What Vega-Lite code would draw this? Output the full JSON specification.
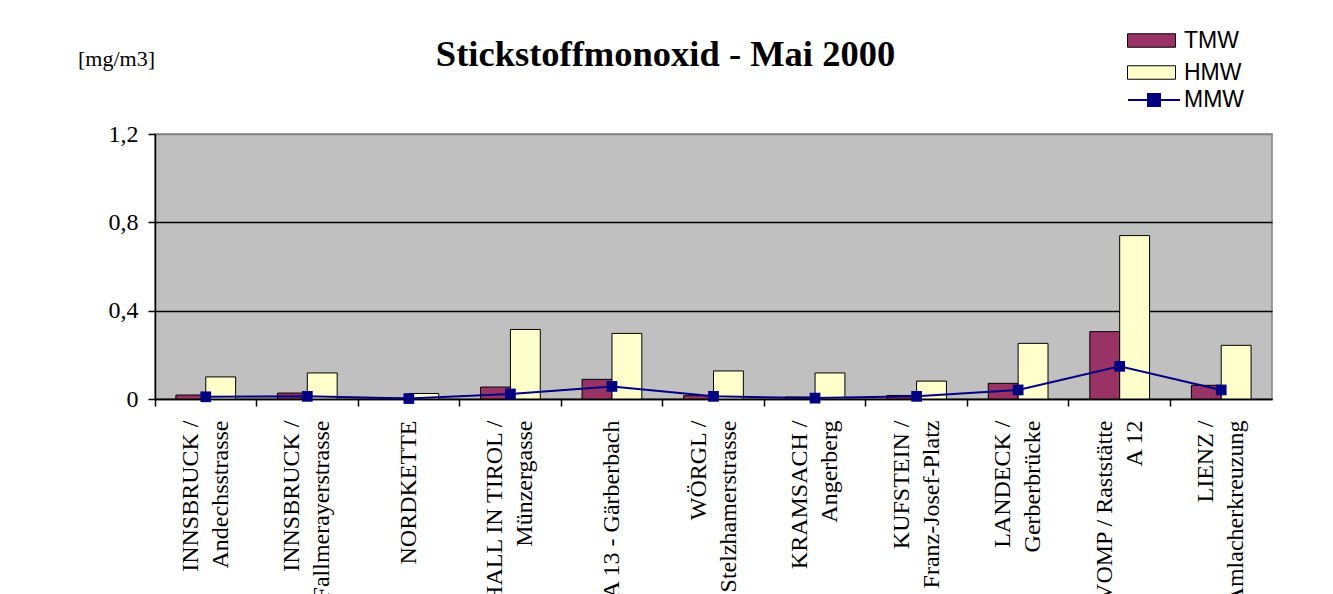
{
  "$schema": "https://vega.github.io/schema/vega-lite/v6.json",
  "width": 1117,
  "height": 265,
  "autosize": {"type": "none"},
  "padding": {"left": 155, "top": 134, "right": 61, "bottom": 195},
  "background": "white",
  "title": {
    "text": "Stickstoffmonoxid - Mai 2000",
    "font": "Liberation Serif",
    "fontSize": 36.5,
    "fontWeight": "bold",
    "color": "black",
    "anchor": "middle",
    "frame": "group",
    "dx": -48,
    "dy": 45,
    "offset": 0
  },
  "data": {
    "values": [
      {"station": "INNSBRUCK /|Andechsstrasse", "series": "TMW", "value": 0.018},
      {"station": "INNSBRUCK /|Andechsstrasse", "series": "HMW", "value": 0.1},
      {"station": "INNSBRUCK /|Andechsstrasse", "series": "MMW", "value": 0.01},
      {"station": "INNSBRUCK /|Fallmerayerstrasse", "series": "TMW", "value": 0.027},
      {"station": "INNSBRUCK /|Fallmerayerstrasse", "series": "HMW", "value": 0.118},
      {"station": "INNSBRUCK /|Fallmerayerstrasse", "series": "MMW", "value": 0.012},
      {"station": "NORDKETTE", "series": "TMW", "value": 0.004},
      {"station": "NORDKETTE", "series": "HMW", "value": 0.025},
      {"station": "NORDKETTE", "series": "MMW", "value": 0.002},
      {"station": "HALL IN TIROL /|Münzergasse", "series": "TMW", "value": 0.054},
      {"station": "HALL IN TIROL /|Münzergasse", "series": "HMW", "value": 0.315},
      {"station": "HALL IN TIROL /|Münzergasse", "series": "MMW", "value": 0.023},
      {"station": "A 13 - Gärberbach", "series": "TMW", "value": 0.089},
      {"station": "A 13 - Gärberbach", "series": "HMW", "value": 0.297},
      {"station": "A 13 - Gärberbach", "series": "MMW", "value": 0.057},
      {"station": "WÖRGL /|Stelzhamerstrasse", "series": "TMW", "value": 0.015},
      {"station": "WÖRGL /|Stelzhamerstrasse", "series": "HMW", "value": 0.127},
      {"station": "WÖRGL /|Stelzhamerstrasse", "series": "MMW", "value": 0.012},
      {"station": "KRAMSACH /|Angerberg", "series": "TMW", "value": 0.009},
      {"station": "KRAMSACH /|Angerberg", "series": "HMW", "value": 0.118},
      {"station": "KRAMSACH /|Angerberg", "series": "MMW", "value": 0.004},
      {"station": "KUFSTEIN /|Franz-Josef-Platz", "series": "TMW", "value": 0.016},
      {"station": "KUFSTEIN /|Franz-Josef-Platz", "series": "HMW", "value": 0.081},
      {"station": "KUFSTEIN /|Franz-Josef-Platz", "series": "MMW", "value": 0.012},
      {"station": "LANDECK /|Gerberbrücke", "series": "TMW", "value": 0.071},
      {"station": "LANDECK /|Gerberbrücke", "series": "HMW", "value": 0.252},
      {"station": "LANDECK /|Gerberbrücke", "series": "MMW", "value": 0.041},
      {"station": "VOMP / Raststätte|A 12", "series": "TMW", "value": 0.305},
      {"station": "VOMP / Raststätte|A 12", "series": "HMW", "value": 0.74},
      {"station": "VOMP / Raststätte|A 12", "series": "MMW", "value": 0.148},
      {"station": "LIENZ /|Amlacherkreuzung", "series": "TMW", "value": 0.062},
      {"station": "LIENZ /|Amlacherkreuzung", "series": "HMW", "value": 0.243},
      {"station": "LIENZ /|Amlacherkreuzung", "series": "MMW", "value": 0.041}
    ]
  },
  "layer": [
    {
      "transform": [{"filter": "datum.series !== 'MMW'"}],
      "mark": {"type": "bar", "stroke": "black", "strokeWidth": 1},
      "encoding": {
        "x": {
          "field": "station",
          "type": "nominal",
          "sort": null,
          "scale": {"paddingInner": 0, "paddingOuter": 0},
          "axis": {
            "title": null,
            "bandPosition": 0,
            "labelOffset": {"condition": {"test": "indexof(datum.value, '|') >= 0", "value": -15}, "value": 0},
            "labelAngle": -90,
            "labelAlign": "right",
            "labelBaseline": "middle",
            "labelFont": "Liberation Serif",
            "labelFontSize": 24,
            "labelLineHeight": 30,
            "labelColor": "black",
            "labelExpr": "split(datum.label, '|')",
            "labelPadding": 14,
            "labelLimit": 0,
            "labelOverlap": false,
            "tickSize": 7,
            "tickColor": "black",
            "tickWidth": 1.5,
            "domainColor": "black",
            "domainWidth": 1.5,
            "grid": false
          }
        },
        "xOffset": {
          "field": "series",
          "type": "nominal",
          "sort": ["TMW", "HMW"],
          "scale": {"domain": ["TMW", "HMW"], "paddingInner": 0, "paddingOuter": 0.7}
        },
        "y": {
          "field": "value",
          "type": "quantitative",
          "scale": {"domain": [0, 1.2], "nice": false},
          "axis": {
            "values": [0, 0.4, 0.8, 1.2],
            "labelExpr": "replace(format(datum.value, '~g'), '.', ',')",
            "labelFont": "Liberation Serif",
            "labelFontSize": 24,
            "labelColor": "black",
            "labelPadding": 10,
            "tickSize": 7,
            "tickColor": "black",
            "tickWidth": 1.5,
            "domainColor": "black",
            "domainWidth": 1.5,
            "grid": true,
            "gridColor": {"condition": {"test": "datum.value >= 1.2", "value": "#808080"}, "value": "black"},
            "gridWidth": 1.5,
            "title": "[mg/m3]",
            "titleAngle": 0,
            "titleX": -39,
            "titleY": -76,
            "titleAlign": "center",
            "titleBaseline": "middle",
            "titleFont": "Liberation Serif",
            "titleFontSize": 22,
            "titleFontWeight": "normal",
            "titleColor": "black"
          }
        },
        "fill": {
          "field": "series",
          "type": "nominal",
          "scale": {"domain": ["TMW", "HMW"], "range": ["#993366", "#FFFFCC"]},
          "legend": {
            "title": null,
            "orient": "none",
            "legendX": 984,
            "legendY": -106,
            "padding": 0,
            "symbolType": "M-2,-0.56H2V0.56H-2Z",
            "symbolSize": 576,
            "symbolStrokeColor": "black",
            "symbolStrokeWidth": 1,
            "symbolOpacity": 1,
            "labelFont": "Liberation Sans",
            "labelFontSize": 23,
            "labelColor": "black",
            "labelOffset": 20,
            "rowPadding": 7
          }
        }
      }
    },
    {
      "transform": [{"filter": "datum.series === 'MMW'"}],
      "mark": {"type": "line", "strokeWidth": 2},
      "encoding": {
        "x": {"field": "station", "type": "nominal", "sort": null},
        "y": {"field": "value", "type": "quantitative"},
        "stroke": {
          "field": "series",
          "type": "nominal",
          "scale": {"domain": ["MMW"], "range": ["#000080"]},
          "legend": {
            "title": null,
            "orient": "none",
            "legendX": 972,
            "legendY": -61,
            "padding": 0,
            "symbolType": "M-1,0H1M-0.23,-0.23H0.23V0.23H-0.23Z",
            "symbolSize": 2704,
            "symbolStrokeWidth": 2,
            "symbolFillColor": "#000080",
            "labelFont": "Liberation Sans",
            "labelFontSize": 23,
            "labelColor": "black",
            "labelOffset": 3
          }
        }
      }
    },
    {
      "transform": [{"filter": "datum.series === 'MMW'"}],
      "mark": {"type": "point", "shape": "square", "filled": true, "size": 115, "color": "#000080", "opacity": 1},
      "encoding": {
        "x": {"field": "station", "type": "nominal", "sort": null},
        "y": {"field": "value", "type": "quantitative"}
      }
    }
  ],
  "config": {
    "view": {"fill": "#C0C0C0", "stroke": "#808080", "strokeWidth": 1.5}
  }
}
